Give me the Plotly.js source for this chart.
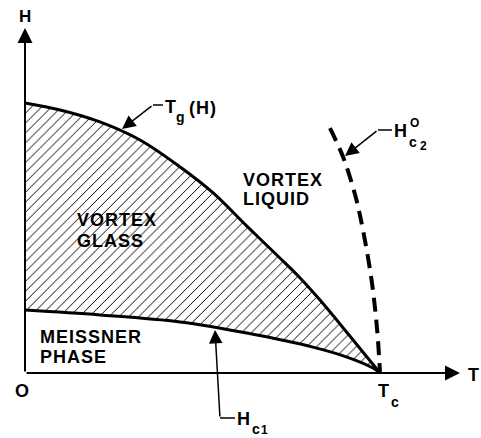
<!DOCTYPE html>
<html>
<head>
<meta charset="utf-8">
<script src="https://cdn.plot.ly/plotly-3.0.1.min.js"></script>
<style>
  html, body { margin: 0; padding: 0; background: #fff; }
  #chart { width: 481px; height: 438px; }
  .annotation-text { letter-spacing: 1px; }
</style>
</head>
<body>
<div id="chart"></div>
<script>
// Phase diagram: T in units of Tc, H in units of Tg(H=0) height
const tgT = [0, 0.099, 0.211, 0.324, 0.437, 0.53, 0.625, 0.718, 0.775, 0.831, 0.915, 1];
const tgH = [1, 0.974, 0.93, 0.863, 0.763, 0.667, 0.544, 0.426, 0.352, 0.27, 0.137, 0];

const hc1T = [0, 0.211, 0.437, 0.625, 0.811, 0.907, 0.98, 1];
const hc1H = [0.233, 0.215, 0.189, 0.148, 0.096, 0.059, 0.0185, 0];

const hc2T = [0.859, 0.896, 0.93, 0.952, 0.977, 0.992, 1];
const hc2H = [0.907, 0.8, 0.659, 0.53, 0.337, 0.159, 0];

// pixel -> data helpers (origin at 25,373; Tc 355px right; unit H 270px up)
const X0 = 25, Y0 = 373, SX = 355, SY = 270;
function dx(p) { return (p - X0) / SX; }
function dy(p) { return (Y0 - p) / SY; }

const FONT = "Liberation Sans, Arial, sans-serif";

function arrow(x0, y0, x1, y1, w, size) {
    return {
        x: dx(x1), y: dy(y1), ax: dx(x0), ay: dy(y0),
        xref: "x", yref: "y", axref: "x", ayref: "y",
        text: "", showarrow: true, arrowhead: 2,
        arrowsize: size, arrowwidth: w, arrowcolor: "#000"
    };
}

function label(text, x, y, size, anchor) {
    return {
        text: text, x: dx(x), y: dy(y), xref: "x", yref: "y",
        showarrow: false, xanchor: anchor || "center", yanchor: "middle",
        borderpad: 0, borderwidth: 0,
        font: { family: FONT, size: size, color: "#000", weight: "bold" }
    };
}

function seg(x0, y0, x1, y1) {
    return {
        type: "line", xref: "x", yref: "y",
        x0: dx(x0), y0: dy(y0), x1: dx(x1), y1: dy(y1),
        line: { color: "#000", width: 1.5 }
    };
}

let data = [
    {
        x: hc1T, y: hc1H, mode: "lines", hoverinfo: "skip",
        line: { color: "#000", width: 3, shape: "spline", smoothing: 1 }
    },
    {
        x: tgT, y: tgH, mode: "lines", hoverinfo: "skip",
        line: { color: "#000", width: 3, shape: "spline", smoothing: 1 },
        fill: "tonexty",
        fillcolor: "rgba(255,255,255,0)",
        fillpattern: { shape: "/", size: 7, solidity: 0.14, fgcolor: "#000", bgcolor: "rgba(255,255,255,0)" }
    },
    {
        x: hc2T, y: hc2H, mode: "lines", hoverinfo: "skip",
        line: { color: "#000", width: 4, dash: "14px,8px", shape: "spline", smoothing: 1 }
    }
];

let annotations = [
    // axes
    arrow(25, 373, 460, 373, 2, 1.5),
    arrow(25, 373, 25, 28, 2, 1.5),
    // leaders
    arrow(153, 105, 122, 129, 1.5, 1.8),
    arrow(378, 130, 345, 156, 1.5, 1.8),
    arrow(220, 418, 215, 330, 1.5, 1.8),
    // axis labels
    label("H", 25, 16, 17),
    label("T", 474, 375, 18),
    label("O", 22, 391, 18),
    label("T", 384, 391, 18), label("c", 395, 402, 14),
    // curve labels
    label("T", 171, 107, 18), label("g", 181, 117, 14), label("(H)", 203, 108, 18),
    label("H", 401, 131, 18), label("O", 415, 123, 12), label("c", 413, 142, 14), label("2", 424, 146, 12),
    label("H", 244, 419, 18), label("c", 256, 429, 14), label("1", 265, 430, 12),
    // regions
    label("VORTEX", 243, 180, 18, "left"), label("LIQUID", 243, 199, 18, "left"),
    label("VORTEX", 77, 220, 18, "left"), label("GLASS", 77, 241, 18, "left"),
    label("MEISSNER", 40, 337, 18, "left"), label("PHASE", 40, 357, 18, "left")
];

let layout = {
    width: 481,
    height: 438,
    margin: { l: 0, r: 0, t: 0, b: 0 },
    showlegend: false,
    paper_bgcolor: "#fff",
    plot_bgcolor: "#fff",
    xaxis: { visible: false, range: [dx(0), dx(481)], fixedrange: true },
    yaxis: { visible: false, range: [dy(438), dy(0)], fixedrange: true },
    shapes: [seg(153, 105, 163, 105), seg(378, 130, 392, 130), seg(220, 418, 235, 418)],
    annotations: annotations
};

Plotly.newPlot("chart", data, layout, { displayModeBar: false, staticPlot: true });
</script>
</body>
</html>
